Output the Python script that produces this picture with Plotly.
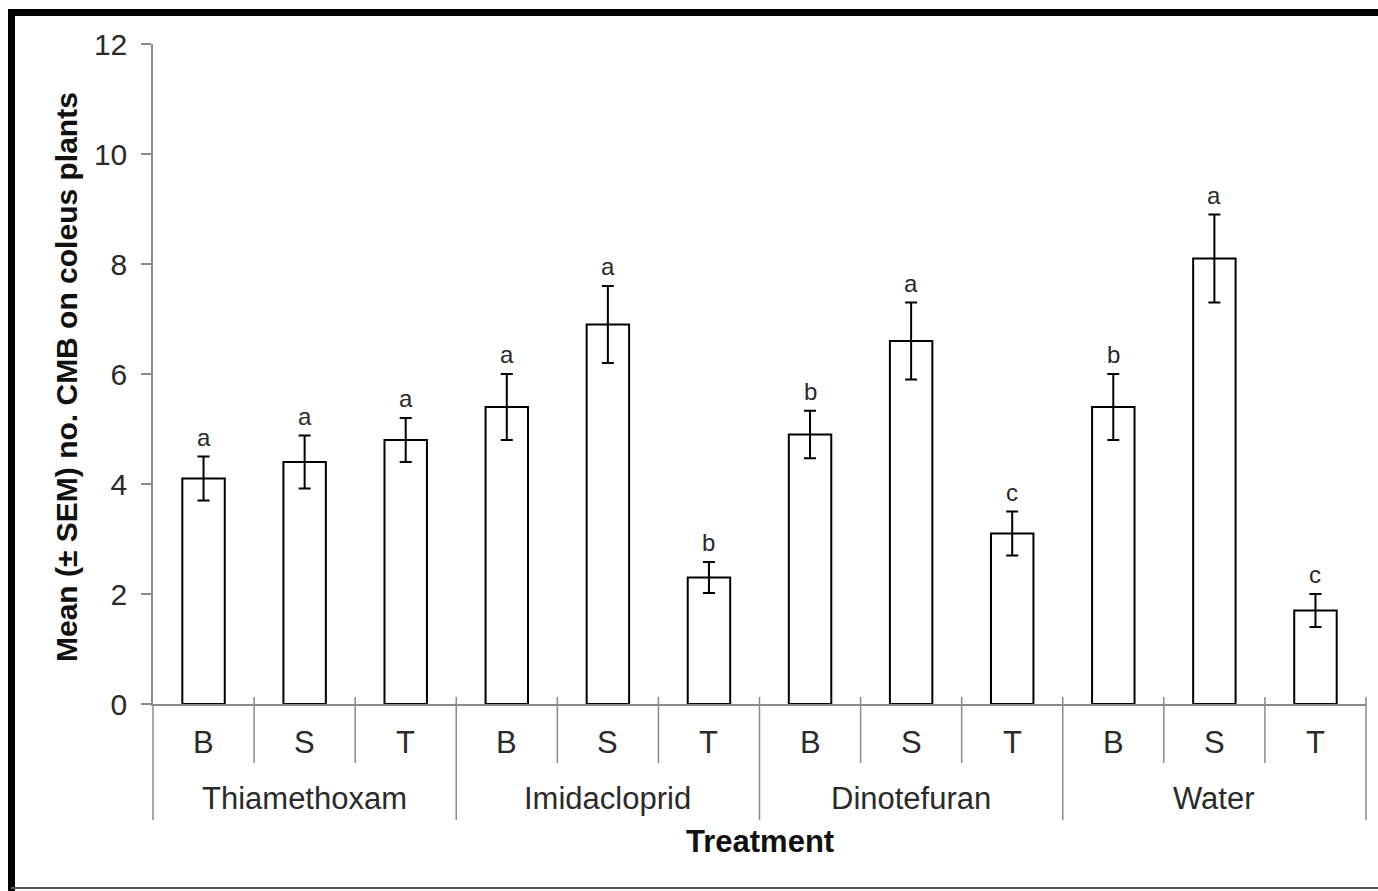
import plotly.graph_objects as go

# Mean number of CMB on coleus plants, by insecticide and application method
treatments = ["Thiamethoxam", "Imidacloprid", "Dinotefuran", "Water"]
methods = ["B", "S", "T"]
means = [4.1, 4.4, 4.8,
         5.4, 6.9, 2.3,
         4.9, 6.6, 3.1,
         5.4, 8.1, 1.7]
sems = [0.4, 0.48, 0.4,
        0.6, 0.7, 0.28,
        0.43, 0.7, 0.4,
        0.6, 0.8, 0.3]
letters = ["a", "a", "a",
           "a", "a", "b",
           "b", "a", "c",
           "b", "a", "c"]

n_groups = len(treatments)
n_sub = len(methods)
n_bars = n_groups * n_sub
xpos = list(range(n_bars))
sub_labels = methods * n_groups

W, H = 1378, 891
ML, MR, MT, MB = 153, 12, 44, 187
plot_h = H - MT - MB
xmin, xmax = -0.5, n_bars - 0.5

FONT = "Liberation Sans, Arial, sans-serif"
AXIS_GREY = "#8a8a8a"
TEXT = "#2a2a2a"


def py(pix):
    """Pixel row (from top of figure) -> paper y."""
    return (H - MB - pix) / plot_h


def px(pix):
    """Pixel column -> paper x."""
    return (pix - ML) / (W - ML - MR)


def xp(v):
    """Data x -> paper x."""
    return (v - xmin) / (xmax - xmin)


fig = go.Figure()
fig.add_trace(go.Bar(
    x=xpos, y=means, width=0.42,
    marker=dict(color="white", line=dict(color="black", width=2)),
    error_y=dict(type="data", array=sems, visible=True,
                 color="black", thickness=2, width=6),
    showlegend=False, hoverinfo="skip",
))

annotations = []
# significance letters above the error bars
for x, m, s, t in zip(xpos, means, sems, letters):
    annotations.append(dict(x=x, y=m + s, xref="x", yref="y", text=t,
                            showarrow=False, yanchor="bottom", yshift=4,
                            font=dict(family=FONT, size=24, color=TEXT)))
# method labels under each bar
for x, t in zip(xpos, sub_labels):
    annotations.append(dict(x=x, y=py(742), xref="x", yref="paper", text=t,
                            showarrow=False, yanchor="middle",
                            font=dict(family=FONT, size=31, color=TEXT)))
# treatment labels under each group
for g, name in enumerate(treatments):
    annotations.append(dict(x=g * n_sub + (n_sub - 1) / 2, y=py(798),
                            xref="x", yref="paper", text=name,
                            showarrow=False, yanchor="middle",
                            font=dict(family=FONT, size=31, color=TEXT)))
# axis titles
annotations.append(dict(x=xp((xmin + xmax) / 2), y=py(842), xref="paper",
                        yref="paper", text="<b>Treatment</b>", showarrow=False,
                        yanchor="middle",
                        font=dict(family=FONT, size=31, color="#111")))
annotations.append(dict(x=px(66), y=py(377), xref="paper", yref="paper",
                        text="<b>Mean (\u00b1 SEM) no. CMB on coleus plants</b>",
                        textangle=-90, showarrow=False,
                        xanchor="center", yanchor="middle",
                        font=dict(family=FONT, size=30, color="#111")))

shapes = []
# separators between methods and between treatment groups
for b in range(n_bars + 1):
    edge = xmin + b
    is_group = b % n_sub == 0
    y0 = py(704) if b == 0 else py(697)
    y1 = py(820) if is_group else py(763)
    shapes.append(dict(type="line", xref="paper", yref="paper",
                       x0=xp(edge), x1=xp(edge), y0=y0, y1=y1,
                       line=dict(color=AXIS_GREY, width=1.5)))
# outer frame
shapes.append(dict(type="line", xref="paper", yref="paper",
                   x0=px(8), x1=px(W), y0=py(12.5), y1=py(12.5),
                   line=dict(color="black", width=7)))
shapes.append(dict(type="line", xref="paper", yref="paper",
                   x0=px(11.5), x1=px(11.5), y0=py(9), y1=py(H),
                   line=dict(color="black", width=7)))
shapes.append(dict(type="line", xref="paper", yref="paper",
                   x0=px(11), x1=px(W), y0=py(888), y1=py(888),
                   line=dict(color="#555", width=2)))

fig.update_layout(
    width=W, height=H,
    margin=dict(l=ML, r=MR, t=MT, b=MB, autoexpand=False),
    paper_bgcolor="white", plot_bgcolor="white",
    bargap=0.58,
    xaxis=dict(range=[xmin, xmax], showticklabels=False, ticks="",
               showgrid=False, zeroline=False, showline=True,
               linecolor=AXIS_GREY, linewidth=1.5, fixedrange=True),
    yaxis=dict(range=[0, 12], tickvals=[0, 2, 4, 6, 8, 10, 12],
               ticks="outside", ticklen=10, tickwidth=1.5,
               tickcolor=AXIS_GREY, ticklabelstandoff=8,
               showgrid=False, zeroline=False, showline=True,
               linecolor=AXIS_GREY, linewidth=1.5,
               tickfont=dict(family=FONT, size=30, color=TEXT),
               fixedrange=True),
    annotations=annotations,
    shapes=shapes,
)

fig.write_html("out.html")
